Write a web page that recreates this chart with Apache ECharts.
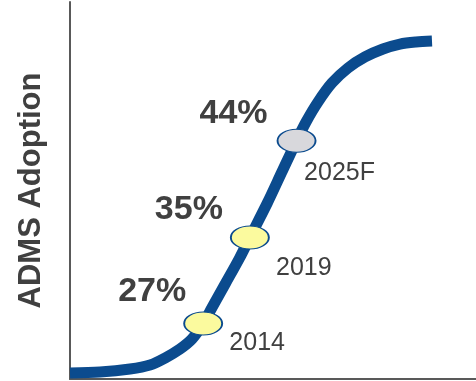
<!DOCTYPE html>
<html>
<head>
<meta charset="utf-8">
<script src="https://cdn.jsdelivr.net/npm/echarts@6/dist/echarts.min.js"></script>
<style>
  html, body { margin: 0; padding: 0; background: #ffffff; }
  #chart { width: 476px; height: 381px; }
</style>
</head>
<body>
<div id="chart"></div>
<script>
// S-curve of ADMS adoption (x: progress along the adoption path, y: adoption %)
const curveX = [0, 7.39, 14.78, 19.70, 23.40, 27.09, 30.05, 32.8, 35.05, 38.35, 41.77, 44.3,
                48.60, 52.19, 55.8, 58.13, 61.08, 64.53, 68.47, 72.66, 77.09, 81.28, 85.22, 89.16];
const curveY = [22.40, 22.49, 22.77, 23.14, 23.79, 24.63, 25.56, 27, 28.54, 30.77, 33.10, 35,
                38.21, 41.10, 44, 45.75, 47.61, 49.38, 50.77, 51.80, 52.54, 53.00, 53.19, 53.28];

// Milestones on the curve
const years = ['2014', '2019', '2025F'];
const adoption = [27, 35, 44];
const milestoneX = [32.8, 44.3, 55.8];
const markerFill = ['#fbfa9e', '#fbfa9e', '#d8d8dc'];

const curveData = curveX.map((x, i) => [x, curveY[i]]);
const milestoneData = years.map((y, i) => ({
  value: [milestoneX[i], adoption[i]],
  itemStyle: { color: markerFill[i] }
}));

const pctOffsets = [[-51, -32], [-61, -28], [-63, -27]];
const yearOffsets = [[54, 20], [54, 31], [43, 32]];

const chart = echarts.init(document.getElementById('chart'), null, { renderer: 'canvas' });
chart.setOption({
  animation: false,
  backgroundColor: '#ffffff',
  grid: { left: 70, right: 0, top: 2, bottom: 2 },
  xAxis: {
    type: 'value', min: 0, max: 100,
    axisLine: { show: true, lineStyle: { color: '#595959', width: 2 } },
    axisTick: { show: false }, axisLabel: { show: false }, splitLine: { show: false }
  },
  yAxis: {
    type: 'value', min: 21.84, max: 56.91,
    name: 'ADMS Adoption',
    nameLocation: 'middle', nameRotate: 90, nameGap: 23,
    nameTextStyle: { fontFamily: 'Liberation Sans, Arial, sans-serif', fontSize: 31, fontWeight: 'bold', color: '#404040' },
    axisLine: { show: true, lineStyle: { color: '#595959', width: 2 } },
    axisTick: { show: false }, axisLabel: { show: false }, splitLine: { show: false }
  },
  series: [
    {
      type: 'line', data: curveData, smooth: 0.3, showSymbol: false,
      lineStyle: { color: '#0b4b8e', width: 11, cap: 'butt' }, z: 2
    },
    {
      type: 'scatter',
      data: milestoneData.map((d, i) => Object.assign({}, d, {
        label: { offset: pctOffsets[i] }
      })),
      symbol: 'circle', symbolSize: [38, 23],
      itemStyle: { borderColor: '#0b4b8e', borderWidth: 1.5, opacity: 1 },
      label: {
        show: true, position: 'inside', align: 'center', verticalAlign: 'middle',
        formatter: p => adoption[p.dataIndex] + '%',
        fontFamily: 'Liberation Sans, Arial, sans-serif', fontSize: 34, fontWeight: 'bold', color: '#404040'
      },
      z: 3
    },
    {
      type: 'scatter',
      data: milestoneData.map((d, i) => ({
        value: d.value,
        label: { offset: yearOffsets[i] }
      })),
      symbolSize: 1, silent: true,
      itemStyle: { color: 'rgba(0,0,0,0)', opacity: 1 },
      label: {
        show: true, position: 'inside', align: 'center', verticalAlign: 'middle',
        formatter: p => years[p.dataIndex],
        fontFamily: 'Liberation Sans, Arial, sans-serif', fontSize: 25, color: '#404040', opacity: 1
      },
      z: 4
    }
  ]
});
</script>
</body>
</html>
